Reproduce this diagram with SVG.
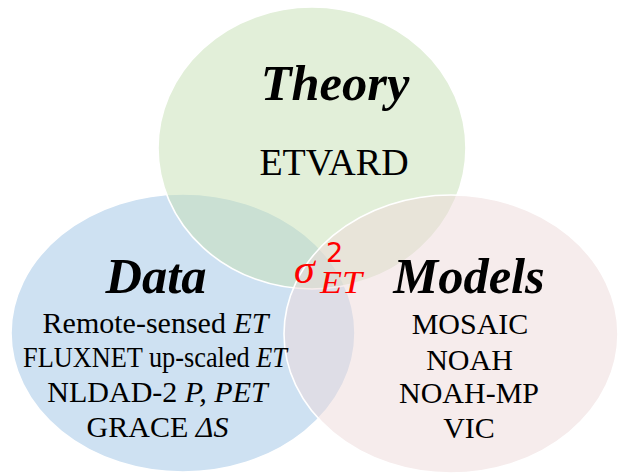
<svg xmlns="http://www.w3.org/2000/svg" width="619" height="476" viewBox="0 0 619 476">
  <style>
    .set { stroke: #ffffff; stroke-width: 1.6; }
    .title { font-weight: bold; font-style: italic; font-size: 50.5px; fill: #000; text-anchor: middle; }
    .item { font-size: 30px; fill: #000; text-anchor: middle; }
    .big { font-size: 38px; }
    .it { font-style: italic; }
    .sym { fill: #ff0000; font-style: italic; }
  </style>
  <rect width="619" height="476" fill="#ffffff"/>

  <!-- Data circle (bottom) -->
  <g id="data">
    <ellipse class="set" cx="183" cy="333" rx="172" ry="139" fill="#9dc3e6" fill-opacity="0.5"/>
  </g>
  <!-- Theory circle (middle layer) -->
  <g id="theory">
    <ellipse class="set" cx="312" cy="148" rx="154" ry="141" fill="#c5e0b4" fill-opacity="0.5"/>
  </g>
  <!-- Models circle (top layer) -->
  <g id="models">
    <ellipse class="set" cx="451" cy="334" rx="167" ry="139" fill="#eed9d9" fill-opacity="0.5"/>
  </g>

  <!-- Labels -->
  <g font-family="Liberation Serif, Times New Roman, serif">
    <g id="theory-label">
      <text class="title" x="335" y="100">Theory</text>
      <text class="item big" x="334" y="175">ETVARD</text>
    </g>
    <g id="data-label">
      <text class="title" x="156" y="293">Data</text>
      <text class="item" x="155.5" y="333">Remote-sensed <tspan class="it">ET</tspan></text>
      <text class="item" x="155" y="367" font-size="28" textLength="264" lengthAdjust="spacingAndGlyphs">FLUXNET up-scaled <tspan class="it">ET</tspan></text>
      <text class="item" x="157.5" y="402">NLDAD-2 <tspan class="it">P, PET</tspan></text>
      <text class="item" x="157.5" y="437">GRACE <tspan class="it">ΔS</tspan></text>
    </g>
    <g id="models-label">
      <text class="title" x="469" y="293">Models</text>
      <text class="item" x="470" y="334">MOSAIC</text>
      <text class="item" x="469.5" y="370">NOAH</text>
      <text class="item" x="469" y="403">NOAH-MP</text>
      <text class="item" x="469" y="438">VIC</text>
    </g>

    <!-- Intersection: ET variance -->
    <g id="variance">
      <text class="sym" x="294" y="283" font-size="42">σ</text>
      <text x="326" y="262" font-family="DejaVu Sans, sans-serif" font-size="27" fill="#ff0000">2</text>
      <text class="sym" x="320" y="293" font-size="32" textLength="42" lengthAdjust="spacingAndGlyphs">ET</text>
    </g>
  </g>
</svg>
